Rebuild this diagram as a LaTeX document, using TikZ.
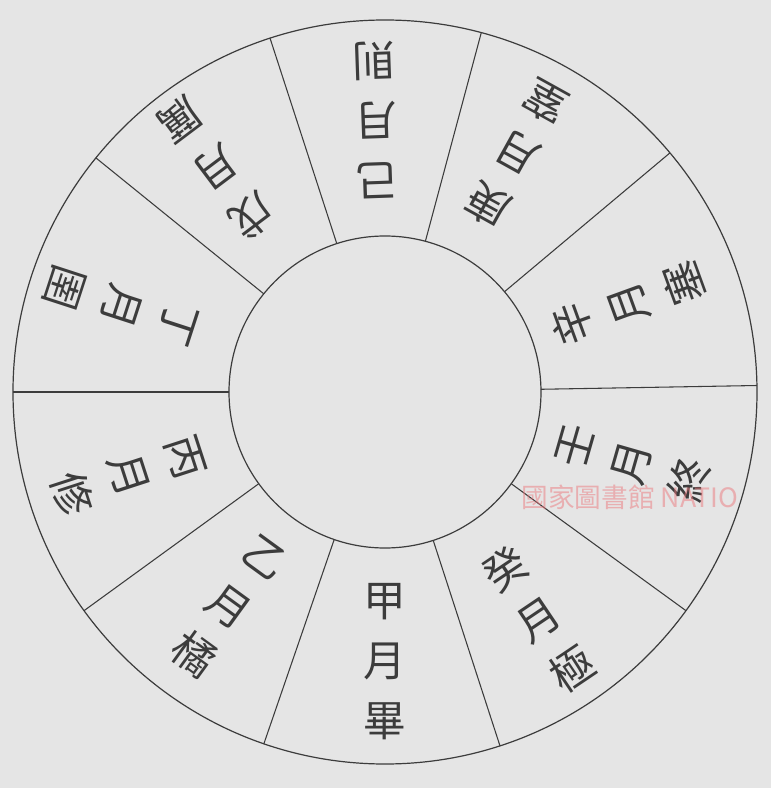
\documentclass[tikz,border=0pt]{standalone}
\usepackage{fontspec}
\newfontfamily\cjk{Noto Sans CJK TC}
\definecolor{ink}{RGB}{60,60,60}
\definecolor{paper}{RGB}{229,229,229}
\definecolor{stamp}{RGB}{236,120,125}
\tikzset{every picture/.style={line width=0.9pt}}
\tikzset{
month/.style={font=\cjk\fontsize{32}{45}\selectfont, align=center, inner sep=0.75pt, text=ink},
rim/.style={draw=ink},
spoke/.style={draw=ink, line width=0.8pt}}

\begin{document}
\begin{tikzpicture}[x=0.75pt,y=0.75pt]
%paper, sets the frame of 771 x 788
\fill [paper] (-385,-396) rectangle (386,392);
\clip (-385,-396) rectangle (386,392);
\coordinate (c) at (0,0);

%Shape: Circle outer
\draw [rim] (c) circle (372);
%Shape: Circle inner
\draw [rim] (c) circle (156);

%Straight Lines
\draw [spoke] (1:156) -- (1:372);
%Straight Lines
\draw [spoke] (40:156) -- (40:372);
%Straight Lines
\draw [spoke] (75:156) -- (75:372);
%Straight Lines
\draw [spoke] (108:156) -- (108:372);
%Straight Lines
\draw [spoke] (141:156) -- (141:372);
%Straight Lines
\draw [spoke] (180:156) -- (180:372);
%Straight Lines
\draw [spoke] (216:156) -- (216:372);
%Straight Lines
\draw [spoke] (251:156) -- (251:372);
%Straight Lines
\draw [spoke] (288:156) -- (288:372);
%Straight Lines
\draw [spoke] (324:156) -- (324:372);

% Text Node
\node [month, rotate=110] (xin) at (20:258) {辛\\月\\塞};
% Text Node
\node [month, rotate=151] (geng) at (61:272) {庚\\月\\窒};
% Text Node
\node [month, rotate=182] (ji) at (92:272) {己\\月\\則};
% Text Node
\node [month, rotate=217] (wu) at (127:280) {戊\\月\\厲};
% Text Node
\node [month, rotate=252] (ding) at (162:278) {丁\\月\\圉};
% Text Node
\node [month, rotate=288] (bing) at (198:270) {丙\\月\\修};
% Text Node
\node [month, rotate=324] (yi) at (234:266) {乙\\月\\橘};
% Text Node
\node [month] (jia) at (270:270) {甲\\月\\畢};
% Text Node
\node [month, rotate=34] (gui) at (304:274) {癸\\月\\極};
% Text Node
\node [month, rotate=74] (ren) at (344:258) {壬\\月\\終};

% Text Node, library stamp
\node [anchor=west, inner sep=0pt, font=\cjk\fontsize{20}{20}\selectfont, text=stamp, opacity=0.5] (stamp) at (136,-105) {國家圖書館 NATIO};

\end{tikzpicture}
\end{document}
